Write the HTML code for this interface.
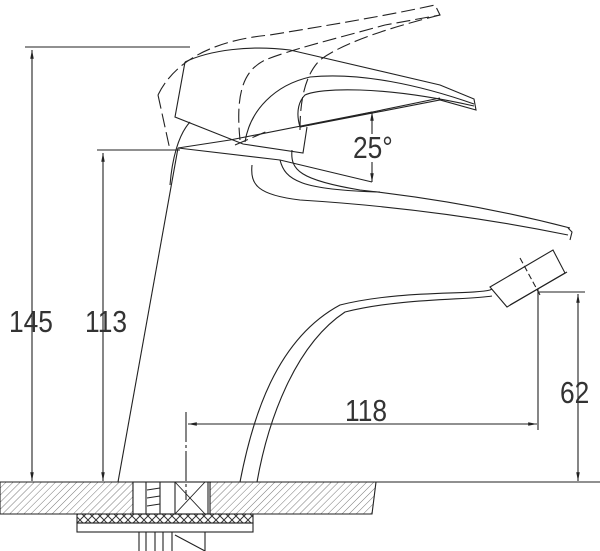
<!DOCTYPE html>
<html><head><meta charset="utf-8"><style>
html,body{margin:0;padding:0;background:#fff;}
svg{display:block;}
text{font-family:"Liberation Sans Narrow","Liberation Sans",sans-serif;font-size:31px;fill:#333;}
</style></head><body>
<svg width="600" height="551" viewBox="0 0 600 551" xmlns="http://www.w3.org/2000/svg">
<defs>
<pattern id="h" width="5" height="5" patternUnits="userSpaceOnUse" patternTransform="rotate(45)">
<line x1="0" y1="0" x2="0" y2="5" stroke="#555" stroke-width="0.8"/>
</pattern>
<pattern id="x" width="8" height="8" patternUnits="userSpaceOnUse">
<path d="M0 0L8 8M8 0L0 8" stroke="#333" stroke-width="1"/>
</pattern>
<marker id="a" viewBox="0 0 10 10" refX="10" refY="5" markerWidth="8" markerHeight="8" orient="auto-start-reverse">
<path d="M0 3L10 5L0 7z" fill="#222"/>
</marker>
</defs>
<g fill="none" stroke="#222" stroke-width="1.1">
<line x1="0" y1="482" x2="600" y2="482"/>
<path d="M0 482H133V514H0z" fill="url(#h)"/>
<path d="M210 482H376L372 514H210z" fill="url(#h)"/>
<rect x="133" y="482" width="77" height="32" fill="#fff"/>
<path d="M146 482V514M160 482V514M175 482V514M208 482V514"/>
<path d="M147 490L160 488M147 498L160 496M147 506L160 504M175 482L205 514M205 482L175 514" stroke-width="0.9"/>
<rect x="77" y="514" width="176" height="9" fill="url(#x)"/>
<rect x="77" y="523" width="176" height="9"/>
<path d="M139 532V551M146 532V551M155 532V551M163 532V551M172 532V551M205 532V551M175 535L205 551"/>
<line x1="25" y1="47" x2="190" y2="47"/>
<line x1="32" y1="50" x2="32" y2="481" marker-start="url(#a)" marker-end="url(#a)"/>
<line x1="97" y1="150" x2="180" y2="150"/>
<line x1="103" y1="153" x2="103" y2="481" marker-start="url(#a)" marker-end="url(#a)"/>
<line x1="186" y1="412" x2="186" y2="500" stroke-dasharray="30 3 3 3"/>
<line x1="538" y1="282" x2="538" y2="430"/>
<line x1="188" y1="424" x2="537" y2="424" marker-start="url(#a)" marker-end="url(#a)"/>
<line x1="538" y1="292" x2="585" y2="292"/>
<line x1="578" y1="294" x2="578" y2="481" marker-start="url(#a)" marker-end="url(#a)"/>
<line x1="372" y1="112" x2="372" y2="134" marker-start="url(#a)"/>
<line x1="372" y1="162" x2="372" y2="182" marker-end="url(#a)"/>
<path d="M118 482L178 148"/>
<path d="M190 122C178 135 172 160 170 185"/>
<path d="M240 482C252 420 275 340 340 305C400 290 470 295 490 290L500 285"/>
<path d="M257 482C268 420 295 345 345 312C400 298 470 300 492 296"/>
<path d="M252 165C250 185 258 195 300 200C380 205 470 215 568 235"/>
<path d="M292 150C290 170 300 180 360 190C450 200 520 215 570 228"/>
<path d="M568 228L572 232L570 240"/>
<path d="M490 287L553 250L565 273L507 307Z" fill="#fff"/>
<path d="M510 305L567 272" />
<path d="M520 258L540 295" stroke-dasharray="6 3"/>
<path d="M185 62L175 117L243 144L303 153L307 127"/>
<path d="M185 62C210 50 250 45 290 50L440 85L474 99L476 110L440 100L300 127"/>
<path d="M300 127L440 98"/>
<path d="M245 142C250 110 275 85 310 77C360 72 420 85 474 104"/>
<path d="M300 127C295 110 300 100 305 95C320 88 380 85 474 106"/>
<path d="M178 148L230 140L372 112"/>
<path d="M178 148L280 160L372 182"/>
<path d="M280 160C285 180 300 190 380 192"/>
<g stroke-dasharray="14 5">
<path d="M158 95C175 60 215 40 270 35C330 25 390 15 435 5L440 15L385 25C330 40 290 50 265 60C245 70 235 90 240 140"/>
<path d="M158 95L170 150"/>
<path d="M300 130C300 100 305 75 320 60C340 45 380 30 440 15"/>
<path d="M235 145L270 130"/>
</g>
</g>
<text transform="translate(9,332) scale(0.85,1)">145</text>
<text transform="translate(85,332) scale(0.85,1)">113</text>
<text transform="translate(345,421) scale(0.85,1)">118</text>
<text transform="translate(560,403) scale(0.85,1)">62</text>
<text transform="translate(353,158) scale(0.85,1)">25°</text>
</svg>
</body></html>
